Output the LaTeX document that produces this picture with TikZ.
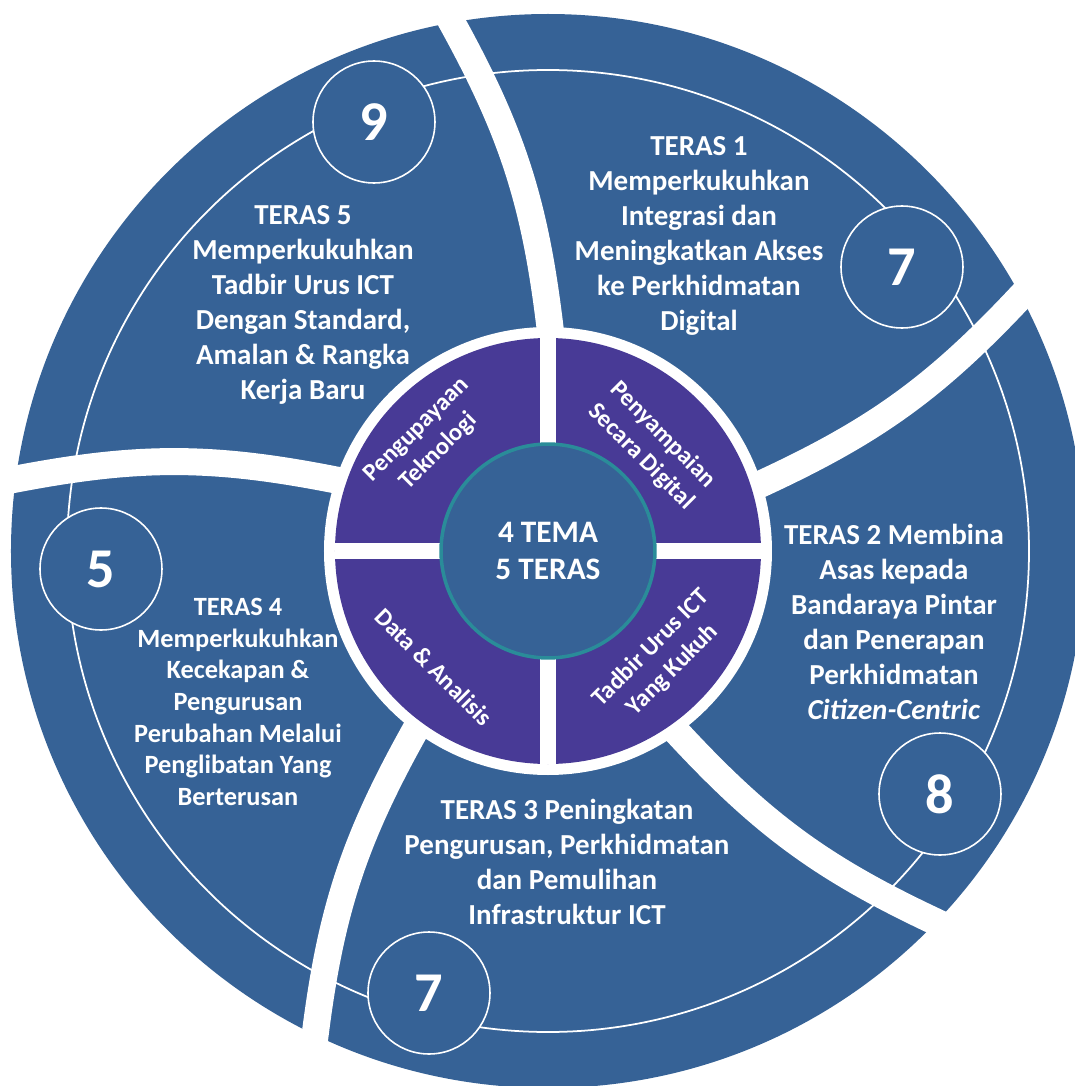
\documentclass[tikz,border=0pt]{standalone}
\usepackage{fontspec}
\setmainfont{Carlito}
\definecolor{terasblue}{HTML}{366296}
\definecolor{temapurple}{HTML}{483A96}
\definecolor{rimteal}{HTML}{2A8C99}
\begin{document}
\begin{tikzpicture}[x=0.02cm,y=0.02cm,line join=round,
	teras/.style={text=white,align=center,font=\fontsize{16.5}{20}\selectfont\bfseries},
	tema/.style={text=white,align=center,inner sep=1pt,font=\fontsize{14}{17.5}\selectfont\bfseries},
	numcircle/.style={circle,draw=white,line width=0.9pt,fill=terasblue,minimum size=2.44cm,inner sep=0pt,text=white,font=\fontsize{32}{32}\selectfont\bfseries},
	core/.style={circle,fill=terasblue,draw=rimteal,line width=2pt,minimum size=4.28cm,inner sep=0pt},
	gapband/.style={white,line width=0.54cm,line cap=rect}]
	\def\rout{537} \def\rarc{481}
	\def\rwhite{224} \def\rtema{213}
	\useasboundingbox (-548,-535) rectangle (527,551);
	\clip (-548,-535) rectangle (527,551);
	% outer ring of the five teras
	\fill[terasblue] (0,0) circle (\rout);
	\draw[white,line width=1pt] (0,0) circle (\rarc);
	\foreach \a in {89.5,17.5,-54.5,-126.5,-198.5}
		\draw[gapband] (\a:\rwhite) to[bend right=11] ({\a+10.8}:\rout);
	% inner ring of the four tema
	\fill[white] (0,0) circle (\rwhite);
	\fill[temapurple] (0,0) circle (\rtema);
	\fill[white] (-8,-\rtema) rectangle (8,\rtema);
	\fill[white] (-\rtema,-8) rectangle (\rtema,8);
	\node[core] (core) at (0,0) {};
	\node[text=white,align=center,inner sep=0pt,font=\fontsize{17.8}{21}\selectfont\bfseries] (corelabel) at (core) {4 TEMA\\5 TERAS};
	\node[tema,rotate=45] (tema1) at (-120,110) {Pengupayaan\\Teknologi};
	\node[tema,rotate=-45] (tema2) at (104,105) {Penyampaian\\Secara Digital};
	\node[tema,rotate=-45] (tema3) at (-114,-116) {Data \& Analisis};
	\node[tema,rotate=45] (tema4) at (114,-108) {Tadbir Urus ICT\\Yang Kukuh};
	% numbers
	\node[numcircle] (num5) at (-174,429) {9};
	\node[numcircle] (num1) at (354,284) {7};
	\node[numcircle] (num2) at (392,-243) {8};
	\node[numcircle] (num3) at (-119,-442) {7};
	\node[numcircle] (num4) at (-447,-18) {5};
	% teras texts
	\node[teras] (teras5) at (-245,246) {TERAS 5\\Memperkukuhkan\\Tadbir Urus ICT\\Dengan Standard,\\Amalan \& Rangka\\Kerja Baru};
	\node[teras] (teras1) at (151,315) {TERAS 1\\Memperkukuhkan\\Integrasi dan\\Meningkatkan Akses\\ke Perkhidmatan\\Digital};
	\node[teras] (teras2) at (346,-71) {TERAS 2 Membina\\Asas kepada\\Bandaraya Pintar\\dan Penerapan\\Perkhidmatan\\\textit{Citizen-Centric}};
	\node[teras] (teras3) at (19,-311) {TERAS 3 Peningkatan\\Pengurusan, Perkhidmatan\\dan Pemulihan\\Infrastruktur ICT};
	\node[teras,font=\fontsize{15}{18}\selectfont\bfseries] (teras4) at (-310,-151) {TERAS 4\\Memperkukuhkan\\Kecekapan \&\\Pengurusan\\Perubahan Melalui\\Penglibatan Yang\\Berterusan};
\end{tikzpicture}
\end{document}
